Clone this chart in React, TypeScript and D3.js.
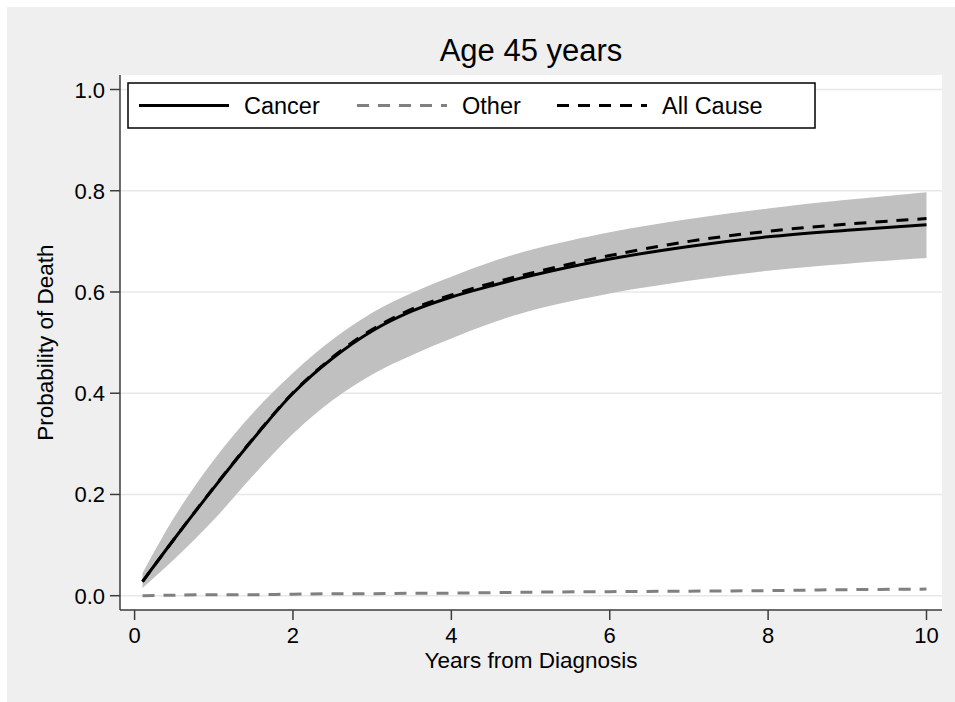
import React from "react";
import * as d3 from "d3";

const years = [0.1, 0.5, 1, 1.5, 2, 2.5, 3, 3.5, 4, 4.5, 5, 6, 7, 8, 9, 10];
const cancer = [0.028, 0.112, 0.213, 0.31, 0.4, 0.469, 0.523, 0.562, 0.59, 0.612, 0.632, 0.665, 0.69, 0.709, 0.722, 0.733];
const allCause = [0.028, 0.112, 0.214, 0.311, 0.401, 0.471, 0.526, 0.566, 0.594, 0.617, 0.637, 0.672, 0.7, 0.72, 0.734, 0.745];
const cancerLo = [0.015, 0.072, 0.15, 0.238, 0.32, 0.386, 0.437, 0.475, 0.508, 0.538, 0.563, 0.597, 0.622, 0.642, 0.656, 0.667];
const cancerHi = [0.044, 0.155, 0.268, 0.362, 0.44, 0.506, 0.559, 0.598, 0.63, 0.659, 0.683, 0.718, 0.744, 0.765, 0.782, 0.797];
const other = [0.0, 0.001, 0.002, 0.002, 0.003, 0.004, 0.004, 0.005, 0.005, 0.006, 0.007, 0.008, 0.009, 0.01, 0.012, 0.013];

const xTicks = [0, 2, 4, 6, 8, 10];
const yTicks = [0, 0.2, 0.4, 0.6, 0.8, 1.0];

const legendItems = [
  { label: "Cancer", color: "#000", dash: null, x: 139 },
  { label: "Other", color: "#808080", dash: "12,9", x: 357 },
  { label: "All Cause", color: "#000", dash: "12,9", x: 557 },
];

const font = "'Liberation Sans', Arial, Helvetica, sans-serif";

export default function App() {
  const W = 955;
  const H = 702;
  const plot = { left: 120, right: 942, top: 75, bottom: 610 };

  const x = d3.scaleLinear().domain([0, 10]).range([134.6, 926.5]);
  const y = d3.scaleLinear().domain([0, 1]).range([595.7, 89.5]);
  const curve = d3.curveCatmullRom.alpha(0.5);

  const band = d3
    .area<number>()
    .x((d, i) => x(years[i]))
    .y0((d, i) => y(cancerLo[i]))
    .y1((d, i) => y(cancerHi[i]))
    .curve(curve);

  const line = (vals: number[]) =>
    d3
      .line<number>()
      .x((d, i) => x(years[i]))
      .y((d) => y(d))
      .curve(curve)(vals) || "";

  return (
    <div style={{ position: "fixed", left: 0, top: 0 }}>
      <svg width={W} height={H} style={{ display: "block" }} fontFamily={font}>
        <rect x={0} y={0} width={W} height={H} fill="#fff" />
        <rect x={7} y={7} width={W - 7} height={H - 7} fill="#efefef" />
        <rect
          x={plot.left}
          y={plot.top}
          width={plot.right - plot.left}
          height={plot.bottom - plot.top}
          fill="#fff"
        />

        {/* grid */}
        {yTicks.map((t) => (
          <line
            key={"g" + t}
            x1={plot.left}
            x2={plot.right}
            y1={y(t)}
            y2={y(t)}
            stroke="#e8e8e8"
            strokeWidth={1.5}
          />
        ))}

        {/* confidence band */}
        <path d={band(years.map(() => 0)) || ""} fill="#c0c0c0" />

        {/* lines */}
        <path d={line(other)} fill="none" stroke="#808080" strokeWidth={3} strokeDasharray="12,9" />
        <path d={line(cancer)} fill="none" stroke="#000" strokeWidth={3} />
        <path d={line(allCause)} fill="none" stroke="#000" strokeWidth={3} strokeDasharray="12,9" />

        {/* axes */}
        <line x1={plot.left} x2={plot.left} y1={plot.top} y2={plot.bottom} stroke="#3c3c3c" strokeWidth={1.5} />
        <line x1={plot.left} x2={plot.right} y1={plot.bottom} y2={plot.bottom} stroke="#3c3c3c" strokeWidth={1.5} />

        {yTicks.map((t) => (
          <g key={"y" + t}>
            <line x1={plot.left - 10} x2={plot.left} y1={y(t)} y2={y(t)} stroke="#3c3c3c" strokeWidth={1.5} />
            <text x={105} y={y(t) + 8} textAnchor="end" fontSize={22} fill="#000">
              {d3.format(".1f")(t)}
            </text>
          </g>
        ))}

        {xTicks.map((t) => (
          <g key={"x" + t}>
            <line x1={x(t)} x2={x(t)} y1={plot.bottom} y2={plot.bottom + 10} stroke="#3c3c3c" strokeWidth={1.5} />
            <text x={x(t)} y={643} textAnchor="middle" fontSize={22} fill="#000">
              {t}
            </text>
          </g>
        ))}

        <text x={531} y={668} textAnchor="middle" fontSize={22.5} fill="#000">
          Years from Diagnosis
        </text>
        <text
          transform={`translate(53,${(y(0) + y(1)) / 2}) rotate(-90)`}
          textAnchor="middle"
          fontSize={22.5}
          fill="#000"
        >
          Probability of Death
        </text>

        {/* title */}
        <text x={531} y={61} textAnchor="middle" fontSize={31} fill="#000">
          Age 45 years
        </text>

        {/* legend */}
        <rect x={128} y={83} width={687} height={45} fill="#fff" stroke="#000" strokeWidth={1.5} />
        {legendItems.map((d) => (
          <g key={d.label}>
            <line
              x1={d.x}
              x2={d.x + 90}
              y1={105.5}
              y2={105.5}
              stroke={d.color}
              strokeWidth={3}
              strokeDasharray={d.dash || undefined}
            />
            <text x={d.x + 105} y={114} fontSize={23.5} fill="#000">
              {d.label}
            </text>
          </g>
        ))}
      </svg>
    </div>
  );
}
